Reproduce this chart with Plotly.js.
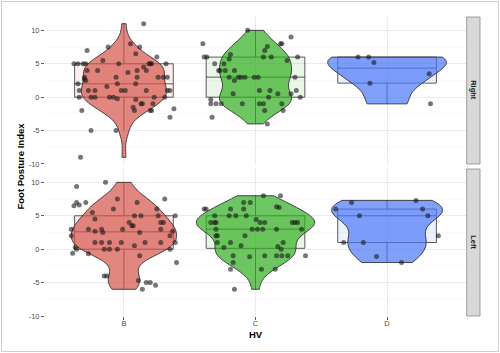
<!DOCTYPE html>
<html><head><meta charset="utf-8">
<script src="https://cdn.plot.ly/plotly-3.0.1.min.js"></script>
<style>
html,body{margin:0;padding:0;background:#fff}
#chart{width:500px;height:353px}
#frame{position:absolute;left:1px;top:1px;width:498px;height:351px;box-sizing:border-box;border:1px solid #cfcfcf;pointer-events:none}
</style>
</head><body><div id="chart"></div><div id="frame"></div>
<script>
const categories = ['B', 'C', 'D'];
const facets = ['Right', 'Left'];
const yTickVals = [-10, -5, 0, 5, 10];
const yTickText = ['-10', '-5', '0', '5', '10'];

// Right foot
const rightB = [11, 7, 7.5, 8, 7.5, 6.5, 6, 5.5, 5, 5, 5, 5, 5, 5, 5, 5, 5, 4, 4, 3.7, 4.5, 4, 4, 3, 3, 2.5, 2.7, 3, 3, 3, 3, 2, 2, 2, 1.6, 1, 1, 1, 1, 1, 1, 1, 1, 0, 0, 0, 0, 0, -0.25, -0.35, 0, 0, -1, -1, -1, -1.5, -2, -2, -2, -1.75, -3, -2, -5, -5, -9];
const rightBJitter = [0.15, -0.28, -0.12, 0.05, 0.12, 0.09, 0.25, -0.16, -0.38, -0.35, -0.31, -0.29, -0.04, 0.19, 0.2, 0.21, 0.32, -0.2, -0.28, 0.03, 0.15, 0.17, 0.1, -0.06, -0.3, -0.29, -0.3, 0.1, 0.26, 0.3, 0.33, -0.35, -0.05, 0.09, -0.13, -0.34, -0.27, -0.22, -0.02, 0.01, 0.17, 0.33, 0.35, -0.34, -0.25, -0.22, -0.11, -0.08, -0.05, 0.09, 0.23, 0.31, 0.22, 0.13, 0.14, 0.07, 0.08, 0.2, 0.21, 0.38, 0.35, -0.32, -0.25, -0.06, -0.33];
const rightC = [10, 8, 8, 8, 9, 7.6, 7, 6.4, 5.7, 6, 6, 6, 6, 5.5, 6, 5, 5, 4, 4, 4, 4, 3, 3, 3, 3, 3, 3, 2.5, 3, 1, 1, 1, 0.5, 0.5, 0, 0.5, 0, -0.35, -1, -1, -1, -1, -1, -1, -1, -2, -2, -3, -4];
const rightCJitter = [-0.06, -0.4, 0.19, 0.2, 0.27, 0.09, 0.07, -0.19, -0.2, -0.39, -0.37, 0.06, 0.12, 0.24, 0.32, -0.31, -0.24, -0.27, -0.28, -0.23, -0.16, -0.2, -0.13, -0.11, -0.08, -0.01, 0.02, -0.16, 0.3, 0.03, 0.11, 0.31, -0.17, 0.17, 0.1, 0.27, 0.34, -0.34, -0.34, -0.3, -0.26, -0.1, 0.03, 0.06, 0.2, 0.21, 0.07, -0.33, 0.09];
const rightD = [6, 6, 5.2, 3.5, 2.1, -1];
const rightDJitter = [-0.22, -0.14, -0.1, 0.32, -0.13, 0.33];

// Left foot
const leftB = [9.4, 10, 7, 6.5, 6.6, 7, 7.5, 6, 7, 7.5, 5.5, 4.5, 6, 5, 5, 5, 5, 4, 3.5, 3.5, 4, 4, 3, 2, 3, 2.7, 3, 2.5, 3, 2.5, 3, 2, 2.7, 1, 1, 1, 1, 1, 1, 1, 0.3, 0, -0.6, 0, 0, 0, 0.5, 0, -0.7, -1, -2, -4, -4, -4.7, -5, -5, -5.4, -6];
const leftBJitter = [-0.36, -0.14, -0.36, -0.38, -0.34, -0.29, -0.05, -0.08, 0.1, 0.31, -0.24, -0.22, 0.25, 0.26, 0.39, 0.08, 0.13, 0.04, 0.06, 0.07, 0.28, 0.3, -0.4, -0.4, -0.27, -0.22, -0.17, -0.16, -0.01, 0.12, 0.28, 0.35, 0.37, 0.39, -0.22, -0.17, -0.11, -0.02, 0.16, 0.28, -0.37, -0.36, -0.39, -0.15, -0.11, -0.05, 0.08, 0.35, -0.27, 0.12, 0.4, -0.15, -0.13, 0.11, 0.17, 0.2, 0.24, 0.14];
const leftC = [8, 8, 6, 6, 7, 7, 6, 6, 6.35, 6.25, 4, 4, 4, 5, 5, 5, 5, 4.45, 4, 4, 4, 4, 4, 3, 3, 3, 3, 3, 3, 2, 2, 2, 1, 1, 0.25, 0.5, 1, 0.4, 0, -1, -1.15, -1, -1, -1, -1, -1, -2, -3, -3, -3, -6];
const leftCJitter = [0.06, 0.19, -0.39, -0.375, -0.09, -0.04, -0.09, -0.19, 0.16, 0.18, -0.34, -0.31, -0.3, -0.31, -0.2, -0.15, -0.07, 0.005, 0.035, 0.07, 0.28, 0.3, 0.32, -0.3, -0.025, 0.015, 0.055, 0.16, 0.35, -0.3, -0.29, -0.08, -0.29, -0.19, -0.24, -0.11, 0.21, 0.17, 0.195, -0.17, -0.045, 0.07, 0.16, 0.2, 0.245, 0.38, -0.17, -0.19, 0.045, 0.15, -0.16];
const leftD = [7.3, 7, 6, 6, 5, 5, 2, 1, 1, -1.1, -2];
const leftDJitter = [0.22, -0.27, -0.39, 0.27, -0.21, 0.31, 0.39, -0.33, -0.18, -0.08, 0.11];

const groupColors = ['214,84,74', '48,174,31', '74,119,248'];

const panels = [
  {facet: facets[0], yaxis: 'y',  values: [rightB, rightC, rightD], jitter: [rightBJitter, rightCJitter, rightDJitter]},
  {facet: facets[1], yaxis: 'y2', values: [leftB, leftC, leftD],   jitter: [leftBJitter, leftCJitter, leftDJitter]}
];

function quantile7(sorted, p) {
  const h = (sorted.length - 1) * p, lo = Math.floor(h), hi = Math.ceil(h);
  return sorted[lo] + (h - lo) * (sorted[hi] - sorted[lo]);
}
function nrd0(v) {
  const n = v.length, s = v.slice().sort((a, b) => a - b);
  const mean = v.reduce((a, b) => a + b, 0) / n;
  const sd = Math.sqrt(v.reduce((a, b) => a + (b - mean) * (b - mean), 0) / (n - 1));
  const iqr = quantile7(s, 0.75) - quantile7(s, 0.25);
  let lo = Math.min(sd, iqr / 1.34);
  if (!(lo > 0)) lo = sd || Math.abs(s[0]) || 1;
  return 0.9 * lo * Math.pow(n, -0.2);
}

const boxes = [], violins = [], points = [];
panels.forEach(p => {
  categories.forEach((cat, ci) => {
    const vals = p.values[ci], jit = p.jitter[ci], col = groupColors[ci];
    const xs = vals.map(() => ci);
    boxes.push({
      type: 'box', x: xs, y: vals, xaxis: 'x', yaxis: p.yaxis,
      width: 0.75, whiskerwidth: 0, quartilemethod: 'inclusive',
      boxpoints: 'outliers', marker: {opacity: 0, size: 1},
      fillcolor: 'rgba(' + col + ',0.1)', line: {color: '#333333', width: 0.8},
      hoverinfo: 'skip', showlegend: false
    });
    violins.push({
      type: 'violin', x: xs, y: vals, xaxis: 'x2', yaxis: p.yaxis,
      scalegroup: p.facet, scalemode: 'width', spanmode: 'hard',
      bandwidth: nrd0(vals), points: false, box: {visible: false}, meanline: {visible: false},
      fillcolor: 'rgba(' + col + ',0.7)', line: {color: '#333333', width: 0.9},
      hoverinfo: 'skip', showlegend: false
    });
    points.push({
      type: 'scatter', mode: 'markers', xaxis: 'x2', yaxis: p.yaxis,
      x: vals.map((v, i) => ci + jit[i]), y: vals,
      marker: {color: 'rgba(25,25,25,0.6)', size: 5},
      hoverinfo: 'skip', showlegend: false
    });
  });
});

const L = 45, R = 466, T = 17, B = 316;
const W = R - L, H = B - T;
const topDomain = [0.5084, 1], botDomain = [0, 0.4916];
const font = 'Liberation Sans, Arial, sans-serif';

const yAxisBase = {
  range: [-10, 12], anchor: 'x', tickmode: 'array', tickvals: yTickVals, ticktext: yTickText,
  showgrid: true, gridcolor: '#ebebeb', gridwidth: 1, zeroline: false, showline: false,
  ticks: 'outside', ticklen: 3, tickwidth: 0.8, tickcolor: '#333333',
  tickfont: {size: 7.5, color: '#4d4d4d', family: font},
  minor: {tickvals: [-7.5, -2.5, 2.5, 7.5], showgrid: true, gridcolor: '#f4f4f4', gridwidth: 0.6, ticks: ''},
  fixedrange: true
};

const stripX0 = (466.7 - L) / W, stripX1 = (480 - L) / W, stripXc = (stripX0 + stripX1) / 2;

const layout = {
  width: 500, height: 353,
  margin: {l: L, r: 500 - R, t: T, b: 353 - B, pad: 0},
  paper_bgcolor: '#ffffff', plot_bgcolor: '#ffffff',
  font: {family: font},
  violinmode: 'overlay', violingap: 0.1, violingroupgap: 0,
  boxmode: 'overlay', showlegend: false,
  xaxis: {
    type: 'linear', range: [-0.6, 2.6], anchor: 'y2', domain: [0, 1],
    tickmode: 'array', tickvals: categories.map((c, i) => i), ticktext: categories,
    showgrid: true, gridcolor: '#ebebeb', gridwidth: 1, zeroline: false, showline: false,
    ticks: 'outside', ticklen: 3, tickwidth: 0.8, tickcolor: '#333333', ticklabelstandoff: -3,
    tickfont: {size: 7.5, color: '#4d4d4d', family: font}, fixedrange: true
  },
  xaxis2: {type: 'linear', range: [-0.6, 2.6], overlaying: 'x', visible: false, fixedrange: true},
  yaxis: Object.assign({}, yAxisBase, {domain: topDomain}),
  yaxis2: Object.assign({}, yAxisBase, {domain: botDomain}),
  shapes: [topDomain, botDomain].map(d => ({
    type: 'rect', xref: 'paper', yref: 'paper', x0: stripX0, x1: stripX1, y0: d[0], y1: d[1],
    fillcolor: '#d9d9d9', line: {color: '#8a8a8a', width: 0.8}, layer: 'above'
  })),
  annotations: [
    {text: '<b>' + facets[0] + '</b>', xref: 'paper', yref: 'paper', x: stripXc, y: (topDomain[0] + topDomain[1]) / 2,
     textangle: 90, showarrow: false, xanchor: 'center', yanchor: 'middle', font: {size: 7.5, color: '#1a1a1a', family: font}},
    {text: '<b>' + facets[1] + '</b>', xref: 'paper', yref: 'paper', x: stripXc, y: (botDomain[0] + botDomain[1]) / 2,
     textangle: 90, showarrow: false, xanchor: 'center', yanchor: 'middle', font: {size: 7.5, color: '#1a1a1a', family: font}},
    {text: '<b>Foot Posture Index</b>', xref: 'paper', yref: 'paper', x: (20 - L) / W, y: 0.5,
     textangle: -90, showarrow: false, xanchor: 'center', yanchor: 'middle', font: {size: 9.5, color: '#000000', family: font}},
    {text: '<b>HV</b>', xref: 'paper', yref: 'paper', x: (256 - L) / W, y: (B - 334) / H,
     showarrow: false, xanchor: 'center', yanchor: 'middle', font: {size: 9.5, color: '#000000', family: font}}
  ]
};

Plotly.newPlot('chart', boxes.concat(violins, points), layout, {staticPlot: true, displayModeBar: false});
</script>
</body></html>
